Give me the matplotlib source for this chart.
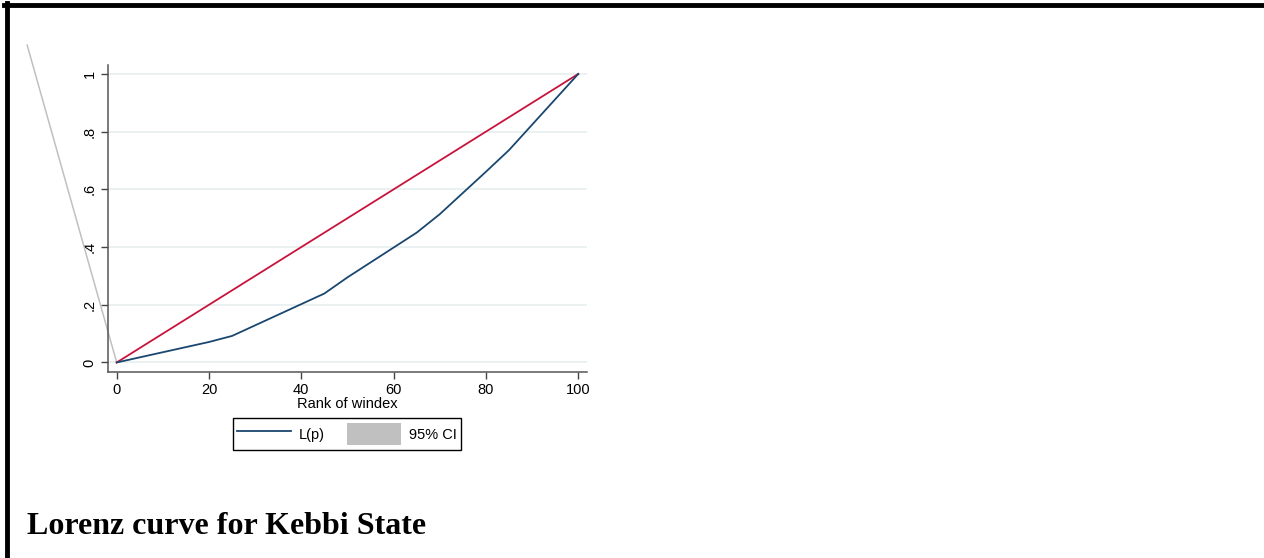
import matplotlib.pyplot as plt
from matplotlib.lines import Line2D
from matplotlib.patches import Patch

# Lorenz curve, Kebbi State (rank of windex in percent)
rank_pct = [0, 20, 25, 45, 50, 65, 70, 80, 85, 100]
lorenz = [0.0, 0.071, 0.092, 0.239, 0.295, 0.450, 0.514, 0.661, 0.736, 1.0]

# line of equality
equal_x = [0, 100]
equal_y = [0, 1]

# confidence band edge as exported
ci_x = [-19.4, 0]
ci_y = [1.10, 0]

x_ticks = [0, 20, 40, 60, 80, 100]
y_ticks = [0, 0.2, 0.4, 0.6, 0.8, 1.0]
y_labels = ["0", ".2", ".4", ".6", ".8", "1"]

NAVY = "#1a476f"
RED = "#c8143c"
GREY = "#c0c0c0"

W, H = 1264, 558
fig = plt.figure(figsize=(W / 100, H / 100), dpi=100)
fig.patch.set_facecolor("white")

ax = fig.add_axes([107.7 / W, 1 - 371.7 / H, (587 - 107.7) / W, (371.7 - 65) / H])
ax.set_xlim(-1.95, 101.9)
ax.set_ylim(-0.032, 1.031)

ax.grid(axis="y", color="#e6efef", linewidth=1.2)
ax.set_axisbelow(True)

ax.plot(ci_x, ci_y, color=GREY, linewidth=1.1, clip_on=False, zorder=2)
ax.plot(equal_x, equal_y, color=RED, linewidth=1.3, zorder=3)
ax.plot(rank_pct, lorenz, color=NAVY, linewidth=1.3, zorder=4)

for s in ["top", "right"]:
    ax.spines[s].set_visible(False)
for s in ["left", "bottom"]:
    ax.spines[s].set_color("#555555")
    ax.spines[s].set_linewidth(1.1)

font = "Liberation Sans"
ax.set_xticks(x_ticks)
ax.set_xticklabels([str(t) for t in x_ticks], fontfamily=font, fontsize=10.5)
ax.set_yticks(y_ticks)
ax.set_yticklabels(y_labels, fontfamily=font, fontsize=10.5, rotation=90, va="center")
ax.tick_params(direction="out", length=5, width=1, color="#444444", pad=3)

ax.set_xlabel("Rank of windex", fontfamily=font, fontsize=10.5, labelpad=0)

handles = [Line2D([], [], color=NAVY, linewidth=1.3),
           Patch(facecolor=GREY, edgecolor="none")]
leg = fig.legend(handles, ["L(p)", "95% CI"], loc="center", ncol=2,
                 bbox_to_anchor=(347 / W, 1 - 434 / H),
                 prop={"family": font, "size": 10.5},
                 frameon=True, fancybox=False, framealpha=1,
                 edgecolor="black", handlelength=3.7, handleheight=2.0,
                 columnspacing=1.5, handletextpad=0.55, borderpad=0.3,
                 borderaxespad=0)
leg.get_frame().set_linewidth(1.0)

fig.text(27 / W, 1 - 527 / H, "Lorenz curve for Kebbi State",
         fontfamily="Liberation Serif", fontweight="bold", fontsize=23,
         ha="left", va="center")

# page frame: top and left rules
fig.add_artist(Line2D([4 / W, 1.0], [1 - 5 / H, 1 - 5 / H], color="black",
                      linewidth=3.5, transform=fig.transFigure))
fig.add_artist(Line2D([6.5 / W, 6.5 / W], [0, 1 - 3 / H], color="black",
                      linewidth=3.5, transform=fig.transFigure))

fig.savefig("out.png", dpi=100)
